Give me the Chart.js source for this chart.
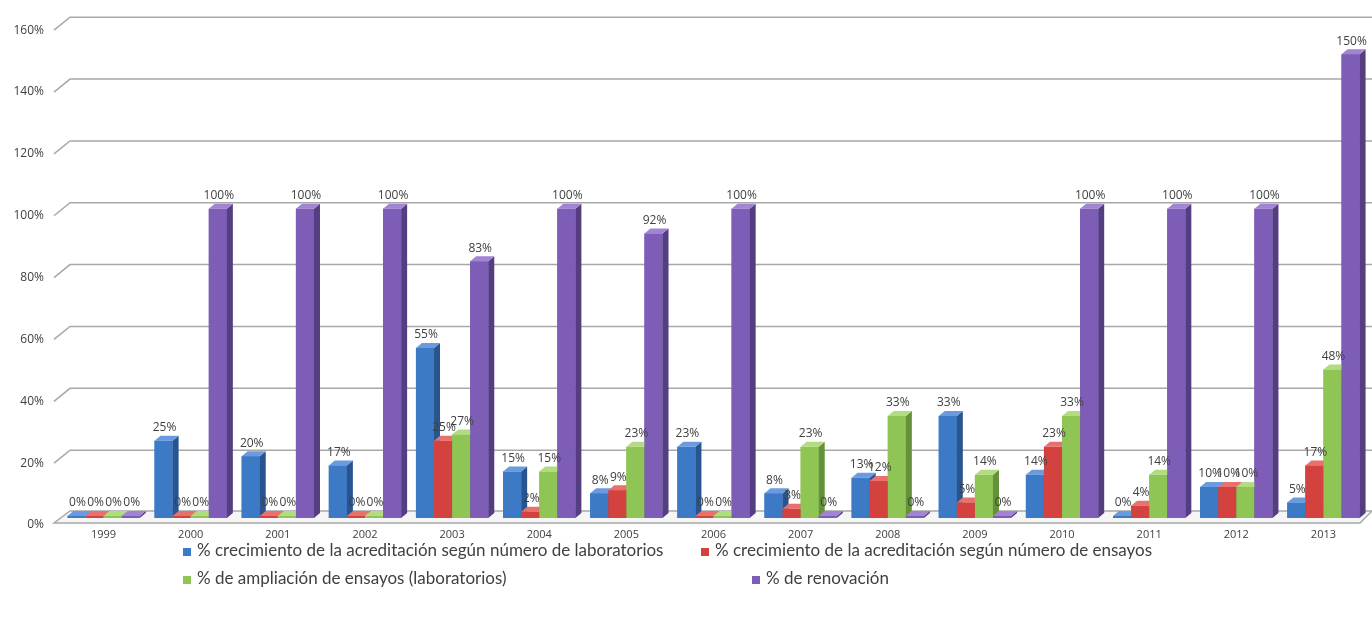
<!DOCTYPE html>
<html>
<head>
<meta charset="utf-8">
<script src="https://cdn.jsdelivr.net/npm/chart.js@4.4.1/dist/chart.umd.min.js"></script>
<style>
    body { margin: 0; background: #fff; }
    #wrap { position: relative; width: 1372px; height: 621px; }
    .leg { position: absolute; font: 17px Lato, sans-serif; color: #404040; white-space: nowrap; line-height: 20px; }
    .leg i { display: inline-block; width: 8px; height: 8px; margin-right: 6px; }
</style>
</head>
<body>
<div id="wrap">
    <canvas id="chart" width="1372" height="621"></canvas>
    <div class="leg" style="left:183px;top:540px"><i style="background:#3d7ac6"></i>% crecimiento de la acreditación según número de laboratorios</div>
    <div class="leg" style="left:701px;top:540px"><i style="background:#d4423f"></i>% crecimiento de la acreditación según número de ensayos</div>
    <div class="leg" style="left:183px;top:568px"><i style="background:#8fc555"></i>% de ampliación de ensayos (laboratorios)</div>
    <div class="leg" style="left:752px;top:568px"><i style="background:#7d5db6"></i>% de renovación</div>
</div>
<script>
// Data
const years = ['1999', '2000', '2001', '2002', '2003', '2004', '2005', '2006', '2007', '2008', '2009', '2010', '2011', '2012', '2013'];
const pctLaboratorios = [0, 25, 20, 17, 55, 15, 8, 23, 8, 13, 33, 14, 0, 10, 5];
const pctEnsayos = [0, 0, 0, 0, 25, 2, 9, 0, 3, 12, 5, 23, 4, 10, 17];
const pctAmpliacion = [0, 0, 0, 0, 27, 15, 23, 0, 23, 33, 14, 33, 14, 10, 48];
const pctRenovacion = [0, 100, 100, 100, 83, 100, 92, 100, 0, 0, 0, 100, 100, 100, 150];
const seriesNames = [
    '% crecimiento de la acreditación según número de laboratorios',
    '% crecimiento de la acreditación según número de ensayos',
    '% de ampliación de ensayos (laboratorios)',
    '% de renovación'
];
const yMax = 160;
const yStep = 20;

// front / side / top colours per series
const palette = [
    { front: '#3d7ac6', side: '#28558f', top: '#6a9be0' },
    { front: '#d4423f', side: '#952b29', top: '#e8716d' },
    { front: '#8fc555', side: '#65913a', top: '#b2dc80' },
    { front: '#7d5db6', side: '#553d82', top: '#a184d2' }
];

const DX = 6, DY = 5;

// fake 3D: floor, back grid lines, bar sides and tops, value labels
const bars3d = {
    id: 'bars3d',
    beforeDatasetsDraw(chart) {
        const { ctx, chartArea, scales: { y } } = chart;
        const x1 = chartArea.left - 6, x2 = chartArea.left + 10, xr = chart.width;
        ctx.save();
        ctx.strokeStyle = '#a8a8a8';
        ctx.lineWidth = 1.5;
        const y0 = y.getPixelForValue(0);
        ctx.fillStyle = '#f6f6f6';
        ctx.beginPath();
        ctx.moveTo(x1, y0 + 5);
        ctx.lineTo(xr - 12, y0 + 5);
        ctx.lineTo(xr, y0 - 7);
        ctx.lineTo(x2, y0 - 7);
        ctx.closePath();
        ctx.fill();
        ctx.stroke();
        y.ticks.forEach(t => {
            if (t.value === 0) return;
            const yp = y.getPixelForValue(t.value);
            ctx.beginPath();
            ctx.moveTo(x1, yp + 7);
            ctx.lineTo(x2, yp - 6);
            ctx.lineTo(xr, yp - 6);
            ctx.stroke();
        });
        ctx.restore();
    },
    afterDatasetsDraw(chart) {
        const ctx = chart.ctx;
        const sets = chart.data.datasets;
        ctx.save();
        for (let i = 0; i < chart.data.labels.length; i++) {
            sets.forEach((ds, d) => {
                const bar = chart.getDatasetMeta(d).data[i];
                const { x, y, base, width } = bar.getProps(['x', 'y', 'base', 'width'], true);
                const l = x - width / 2, r = x + width / 2;
                const top = Math.min(y, base - 2);
                const c = palette[d];
                ctx.fillStyle = c.front;
                ctx.fillRect(l, top, width, base - top);
                ctx.fillStyle = c.side;
                ctx.beginPath();
                ctx.moveTo(r, top);
                ctx.lineTo(r + DX, top - DY);
                ctx.lineTo(r + DX, base - DY);
                ctx.lineTo(r, base);
                ctx.closePath();
                ctx.fill();
                ctx.fillStyle = c.top;
                ctx.beginPath();
                ctx.moveTo(l, top);
                ctx.lineTo(l + DX, top - DY);
                ctx.lineTo(r + DX, top - DY);
                ctx.lineTo(r, top);
                ctx.closePath();
                ctx.fill();
            });
        }
        // value labels
        ctx.font = '12px "Open Sans"';
        ctx.fillStyle = '#404040';
        ctx.textAlign = 'center';
        ctx.textBaseline = 'bottom';
        sets.forEach((ds, d) => {
            chart.getDatasetMeta(d).data.forEach((bar, i) => {
                const { x, y, base } = bar.getProps(['x', 'y', 'base'], true);
                const top = Math.min(y, base - 2);
                ctx.fillText(ds.data[i] + '%', x + 1, top - DY - 2);
            });
        });
        ctx.restore();
    }
};

const seriesData = [pctLaboratorios, pctEnsayos, pctAmpliacion, pctRenovacion];

new Chart(document.getElementById('chart'), {
    type: 'bar',
    data: {
        labels: years,
        datasets: seriesData.map((vals, d) => ({
            label: seriesNames[d],
            data: vals,
            backgroundColor: palette[d].front,
            borderWidth: 0,
            categoryPercentage: 0.83,
            barPercentage: 1
        }))
    },
    options: {
        responsive: false,
        animation: false,
        layout: { padding: { top: 18, bottom: 73, left: 0, right: 5 } },
        plugins: {
            legend: { display: false },
            tooltip: { enabled: false }
        },
        scales: {
            x: {
                grid: { display: false, drawTicks: false },
                border: { display: false },
                ticks: {
                    color: '#404040',
                    font: { family: 'Open Sans', size: 11 },
                    padding: 10,
                    maxRotation: 0,
                    autoSkip: false
                },
                afterFit(scale) { scale.height = 30; }
            },
            y: {
                min: 0,
                max: yMax,
                grid: { display: false, drawTicks: false },
                border: { display: false },
                ticks: {
                    stepSize: yStep,
                    color: '#404040',
                    font: { family: 'Open Sans', size: 12 },
                    padding: 16,
                    labelOffset: 7,
                    callback: v => v + '%'
                },
                afterFit(scale) { scale.width = 60; }
            }
        }
    },
    plugins: [bars3d]
});
</script>
</body>
</html>
